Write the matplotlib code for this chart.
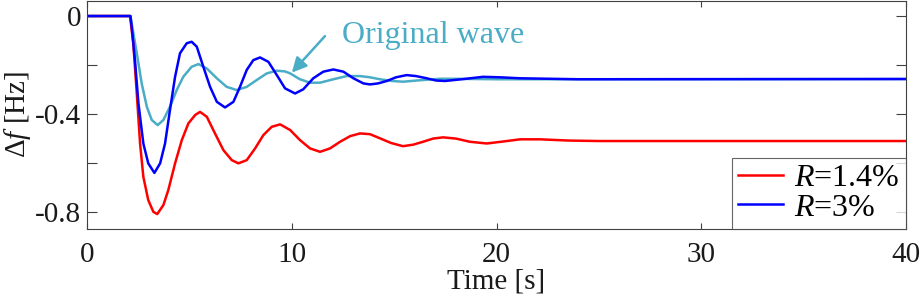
import numpy as np
import matplotlib
matplotlib.use("Agg")
from matplotlib import pyplot as plt

# values
t_r14 = [0, 2.10, 2.26, 2.43, 2.59, 2.75, 2.99, 3.24, 3.43, 3.73, 3.97, 4.30, 4.63,
         4.95, 5.28, 5.52, 5.85, 6.25, 6.66, 7.07, 7.39, 7.80, 8.21, 8.61, 9.02,
         9.43, 9.92, 10.40, 10.89, 11.38, 11.87, 12.36, 12.85, 13.33, 13.82,
         14.31, 14.85, 15.43, 15.92, 16.41, 16.90, 17.39, 18.02, 18.70, 19.52,
         20.32, 21.15, 22.12, 23.5, 25.0, 40.0]
df_r14 = [0, 0, -0.111, -0.316, -0.520, -0.656, -0.751, -0.799, -0.808, -0.771,
          -0.710, -0.601, -0.506, -0.438, -0.404, -0.391, -0.411, -0.479, -0.547,
          -0.588, -0.601, -0.588, -0.540, -0.486, -0.452, -0.442, -0.465, -0.506,
          -0.540, -0.554, -0.540, -0.513, -0.490, -0.479, -0.482, -0.499, -0.518,
          -0.531, -0.525, -0.513, -0.500, -0.495, -0.500, -0.513, -0.520, -0.512,
          -0.503, -0.503, -0.508, -0.510, -0.510]

t_r3 = [0, 2.12, 2.18, 2.34, 2.51, 2.75, 2.99, 3.29, 3.57, 3.81, 4.05, 4.30, 4.54,
        4.87, 5.11, 5.36, 5.68, 6.01, 6.34, 6.74, 7.15, 7.47, 7.80, 8.12, 8.45,
        8.86, 9.27, 9.67, 10.16, 10.56, 11.05, 11.54, 12.03, 12.52, 13.01, 13.50,
        13.82, 14.21, 14.64, 15.09, 15.61, 16.07, 16.59, 17.04, 17.48, 18.41,
        19.34, 20.17, 21.15, 24.0, 40.0]
df_r3 = [0, 0, -0.043, -0.180, -0.356, -0.520, -0.601, -0.640, -0.601, -0.520,
         -0.384, -0.248, -0.152, -0.111, -0.105, -0.125, -0.207, -0.289, -0.350,
         -0.373, -0.350, -0.289, -0.220, -0.180, -0.169, -0.187, -0.241, -0.295,
         -0.316, -0.299, -0.254, -0.227, -0.218, -0.227, -0.254, -0.275, -0.279,
         -0.275, -0.265, -0.250, -0.241, -0.245, -0.254, -0.263, -0.265, -0.257,
         -0.248, -0.250, -0.254, -0.258, -0.257]

t_orig = [0, 2.12, 2.18, 2.43, 2.67, 2.92, 3.16, 3.45, 3.73, 4.05, 4.38, 4.70, 5.11,
          5.44, 5.85, 6.34, 6.82, 7.31, 7.80, 8.29, 8.78, 9.27, 9.67, 9.92, 10.40,
          10.89, 11.38, 12.03, 12.68, 13.33, 13.82, 14.31, 14.90, 15.43, 16.26,
          17.24, 17.88, 20.0, 40.0]
df_orig = [0, 0, -0.030, -0.152, -0.275, -0.370, -0.424, -0.445, -0.424, -0.370,
           -0.302, -0.248, -0.207, -0.196, -0.214, -0.254, -0.289, -0.302, -0.289,
           -0.261, -0.234, -0.223, -0.226, -0.234, -0.258, -0.272, -0.272, -0.258,
           -0.245, -0.245, -0.250, -0.258, -0.265, -0.268, -0.262, -0.256, -0.256,
           -0.258, -0.257]

x_ticks = [0, 10, 20, 30, 40]
y_ticks = [0, -0.2, -0.4, -0.6, -0.8]
y_tick_labels = ["0", "", "-0.4", "", "-0.8"]

plt.rcParams["font.family"] = ["Liberation Serif", "DejaVu Serif"]
plt.rcParams["mathtext.fontset"] = "custom"
plt.rcParams["mathtext.rm"] = "Liberation Serif"
plt.rcParams["mathtext.it"] = "Liberation Serif:italic"
plt.rcParams["lines.solid_joinstyle"] = "round"

orig_color = "#4bacc6"
spine_color = "#404040"
text_color = "#1a1a1a"

fig = plt.figure(figsize=(9.21, 2.94), dpi=100)
ax = fig.add_axes([0.0945, 0.221, 0.8892, 0.777])

ax.plot(t_orig, df_orig, color=orig_color, lw=1.8)
ax.plot(t_r14, df_r14, color="#ff0000", lw=1.8, label="$R$=1.4%")
ax.plot(t_r3, df_r3, color="#0000ff", lw=1.8, label="$R$=3%")

ax.set_xlim(0, 40)
ax.set_ylim(-0.869, 0.063)
ax.set_xticks(x_ticks)
ax.set_yticks(y_ticks)
ax.set_yticklabels(y_tick_labels)

ax.tick_params(axis="both", direction="in", colors=spine_color, labelcolor=text_color,
               labelsize=21, top=True, right=True, width=0.8)
ax.tick_params(axis="x", length=4, pad=9)
ax.tick_params(axis="y", length=7, pad=4)
for s in ax.spines.values():
    s.set_color(spine_color)
    s.set_linewidth(0.8)

ax.set_xlabel("Time [s]", fontsize=21, color=text_color, va="baseline")
ax.xaxis.set_label_coords(0.5, -0.26)
ax.set_ylabel("Δ$f$ [Hz]", fontsize=21, labelpad=2, color=text_color)

# annotation: arrow pointing at the original wave, text to the right
ax.annotate("", xy=(10.0, -0.231), xytext=(11.62, -0.082),
            arrowprops=dict(arrowstyle="-|>", mutation_scale=22,
                            color=orig_color, lw=1.8, shrinkA=0, shrinkB=0))
ax.text(12.45, -0.078, "Original wave", color=orig_color, fontsize=23,
        va="center", ha="left")

leg = ax.legend(loc="lower right", fontsize=23, frameon=True, fancybox=False,
                borderaxespad=0, handlelength=1.4, handletextpad=0.35,
                labelspacing=0.0, borderpad=0.2)
leg.get_frame().set_edgecolor(spine_color)
leg.get_frame().set_linewidth(0.8)

fig.savefig("out.png", dpi=100)
